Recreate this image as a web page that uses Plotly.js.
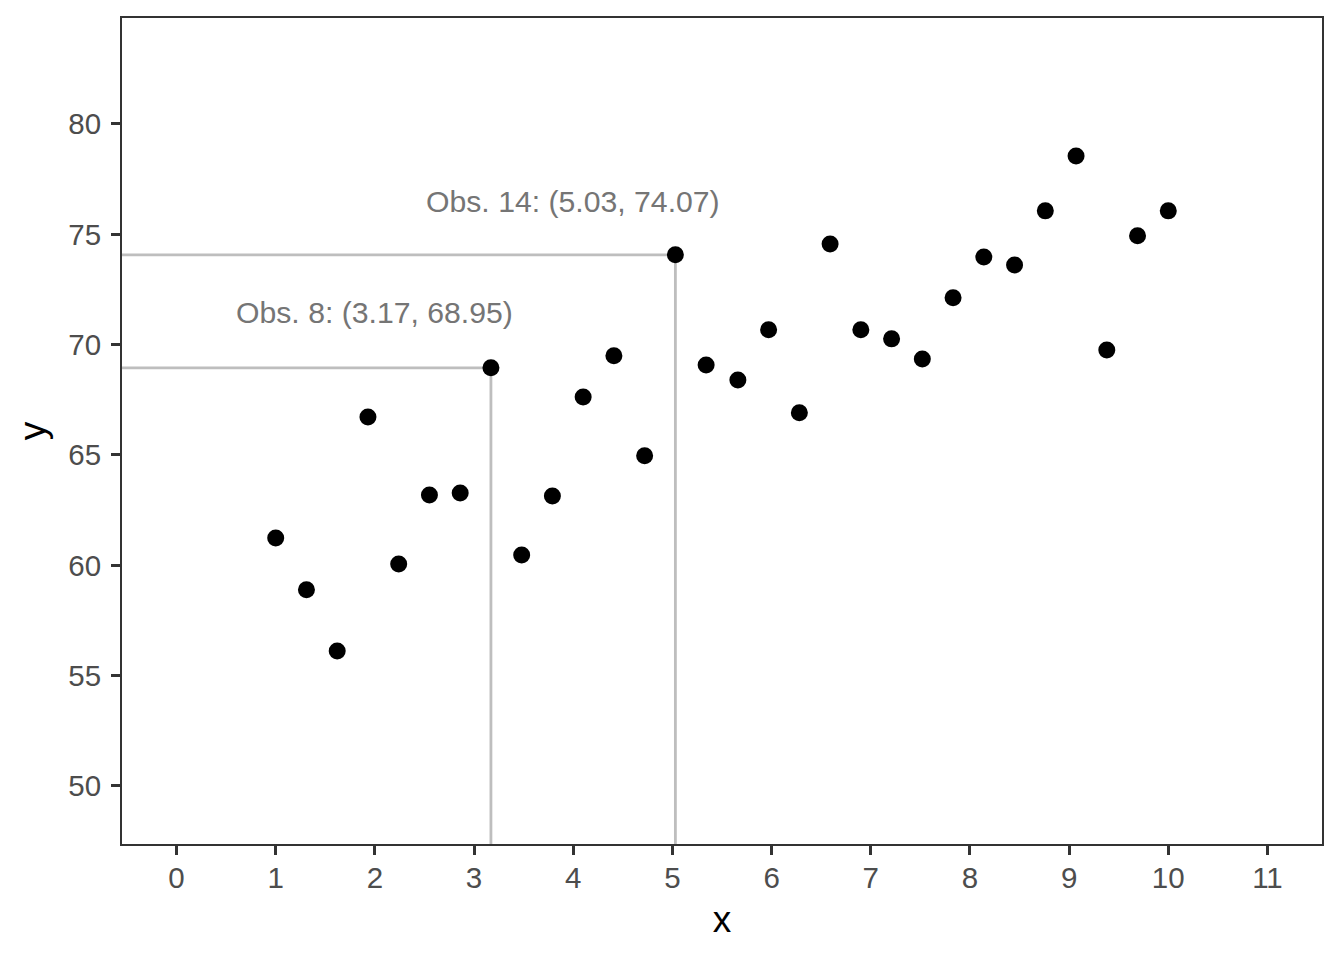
<!DOCTYPE html>
<html>
<head>
<meta charset="utf-8">
<script src="https://cdn.plot.ly/plotly-3.0.1.min.js"></script>
<style>html,body{margin:0;padding:0;background:#fff;}#chart{width:1344px;height:960px;}</style>
</head>
<body>
<div id="chart"></div>
<script>
// Data
const xValues = [1.00, 1.31, 1.62, 1.93, 2.24, 2.55, 2.86, 3.17, 3.48, 3.79,
                 4.10, 4.41, 4.72, 5.03, 5.34, 5.66, 5.97, 6.28, 6.59, 6.90,
                 7.21, 7.52, 7.83, 8.14, 8.45, 8.76, 9.07, 9.38, 9.69, 10.00];
const yValues = [61.24, 58.89, 56.12, 66.72, 60.06, 63.19, 63.28, 68.95, 60.47, 63.14,
                 67.63, 69.49, 64.96, 74.07, 69.08, 68.40, 70.67, 66.91, 74.56, 70.67,
                 70.26, 69.35, 72.12, 73.97, 73.61, 76.06, 78.55, 69.76, 74.93, 76.06];
const highlightObs = [8, 14];
const labelX = [2.0, 4.0];
const labelY = [71.44, 76.47];
const xTicks = [0,1,2,3,4,5,6,7,8,9,10,11];
const yTicks = [50,55,60,65,70,75,80];

const xRange = [-0.55, 11.55];
const yRange = [47.37, 84.8];

const FONT = 'Liberation Sans, Arial, sans-serif';
const shapes = [];
const annotations = [];
highlightObs.forEach((obs, i) => {
  const px = xValues[obs-1], py = yValues[obs-1];
  shapes.push({type:'line', xref:'x', yref:'y', x0:xRange[0], x1:px, y0:py, y1:py,
               line:{color:'#bebebe', width:2.8}, layer:'below'});
  shapes.push({type:'line', xref:'x', yref:'y', x0:px, x1:px, y0:yRange[0], y1:py,
               line:{color:'#bebebe', width:2.8}, layer:'below'});
  annotations.push({x:labelX[i], y:labelY[i], xref:'x', yref:'y', showarrow:false,
    text:'Obs. ' + obs + ': (' + px.toFixed(2) + ', ' + py.toFixed(2) + ')',
    font:{family:FONT, size:30.2, color:'#757575'},
    xanchor:'center', yanchor:'middle'});
});

const trace = {
  x: xValues, y: yValues, type:'scatter', mode:'markers',
  marker:{color:'#000000', size:17}, hoverinfo:'x+y', showlegend:false
};

const axisCommon = {
  showgrid:false, zeroline:false, showline:true, mirror:true,
  linecolor:'#333333', linewidth:2,
  ticks:'outside', ticklen:9, tickwidth:3, tickcolor:'#333333',
  tickfont:{family:FONT, size:29.5, color:'#4d4d4d'},
  automargin:false
};

const layout = {
  width:1344, height:960,
  margin:{l:122, r:22, t:18, b:116},
  paper_bgcolor:'#ffffff', plot_bgcolor:'#ffffff',
  xaxis: Object.assign({}, axisCommon, {
    range:xRange, tickmode:'array', tickvals:xTicks, ticktext:xTicks.map(String),
    ticklabelstandoff:-2,
    title:{text:'x', font:{family:FONT, size:37, color:'#000'}, standoff:13}
  }),
  yaxis: Object.assign({}, axisCommon, {
    range:yRange, tickmode:'array', tickvals:yTicks, ticktext:yTicks.map(String),
    ticklabelstandoff:4,
    title:{text:'y', font:{family:FONT, size:37, color:'#000'}, standoff:11}
  }),
  shapes: shapes,
  annotations: annotations
};

Plotly.newPlot('chart', [trace], layout, {displayModeBar:false, staticPlot:true});
</script>
</body>
</html>
